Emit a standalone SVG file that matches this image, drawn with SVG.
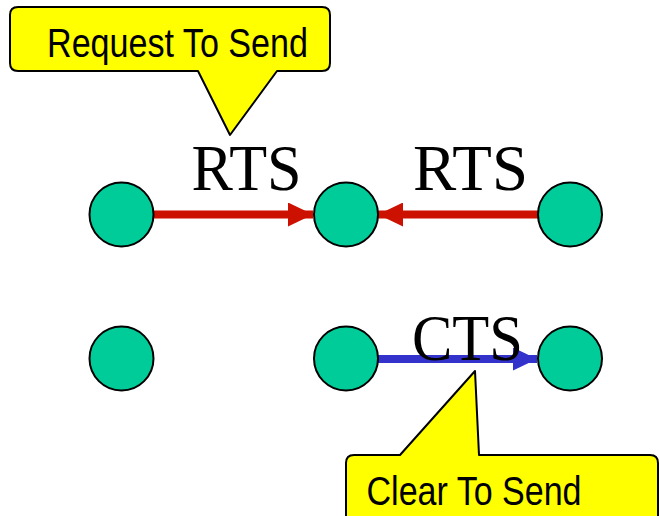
<svg xmlns="http://www.w3.org/2000/svg" width="660" height="516" viewBox="0 0 660 516">
  <defs>
    <style>
      .node { fill: #00CC99; stroke: #000; stroke-width: 2; }
      .callout { fill: #FFFF00; stroke: #000; stroke-width: 2; stroke-linejoin: round; }
      .big { font-family: "Liberation Serif", "Times New Roman", serif; font-size: 65px; fill: #000; }
      .note { font-family: "Liberation Sans", Arial, sans-serif; font-size: 40px; fill: #000; }
      .rts { stroke: #CC1100; stroke-width: 8; fill: none; }
      .cts { stroke: #3333CC; stroke-width: 8; fill: none; }
    </style>
    <marker id="headRed" viewBox="0 0 25 24" refX="25" refY="12" markerWidth="25" markerHeight="24" markerUnits="userSpaceOnUse" orient="auto">
      <path d="M0,0 L25,12 L0,24 Z" fill="#CC1100"/>
    </marker>
    <marker id="headBlue" viewBox="0 0 24 23" refX="24" refY="11.5" markerWidth="24" markerHeight="23" markerUnits="userSpaceOnUse" orient="auto">
      <path d="M0,0 L24,11.5 L0,23 Z" fill="#3333CC"/>
    </marker>
  </defs>

  <!-- connectors -->
  <g id="connectors">
    <line class="rts" x1="154" y1="214.5" x2="313" y2="214.5" marker-end="url(#headRed)"/>
    <line class="rts" x1="538" y1="214.5" x2="378" y2="214.5" marker-end="url(#headRed)"/>
    <line class="cts" x1="378" y1="359" x2="537" y2="359" marker-end="url(#headBlue)"/>
  </g>

  <!-- stations, top row -->
  <g id="node-a1"><circle class="node" cx="121.5" cy="214.5" r="32"/></g>
  <g id="node-b1"><circle class="node" cx="346" cy="214.5" r="32"/></g>
  <g id="node-c1"><circle class="node" cx="570" cy="214.5" r="32"/></g>

  <!-- stations, bottom row -->
  <g id="node-a2"><circle class="node" cx="121.5" cy="358.5" r="32"/></g>
  <g id="node-b2"><circle class="node" cx="346" cy="358.5" r="32"/></g>
  <g id="node-c2"><circle class="node" cx="570" cy="358.5" r="32"/></g>

  <!-- frame labels -->
  <g id="labels">
    <text class="big" x="191.5" y="190" textLength="110" lengthAdjust="spacingAndGlyphs">RTS</text>
    <text class="big" x="413" y="190" textLength="115" lengthAdjust="spacingAndGlyphs">RTS</text>
    <text class="big" x="412" y="360" textLength="111" lengthAdjust="spacingAndGlyphs">CTS</text>
  </g>

  <!-- callout: Request To Send -->
  <g id="callout-rts">
    <path class="callout" d="M18,7 H322 Q330,7 330,15 V63 Q330,71 322,71 H277 L230,135 L198,71 H18 Q10,71 10,63 V15 Q10,7 18,7 Z"/>
    <text class="note" x="47" y="57" textLength="261" lengthAdjust="spacingAndGlyphs">Request To Send</text>
  </g>

  <!-- callout: Clear To Send -->
  <g id="callout-cts">
    <path class="callout" d="M354,455 H400 L475,371 L479,455 H650 Q658,455 658,463 V530 H346 V463 Q346,455 354,455 Z"/>
    <text class="note" x="366.5" y="505" textLength="215" lengthAdjust="spacingAndGlyphs">Clear To Send</text>
  </g>
</svg>
